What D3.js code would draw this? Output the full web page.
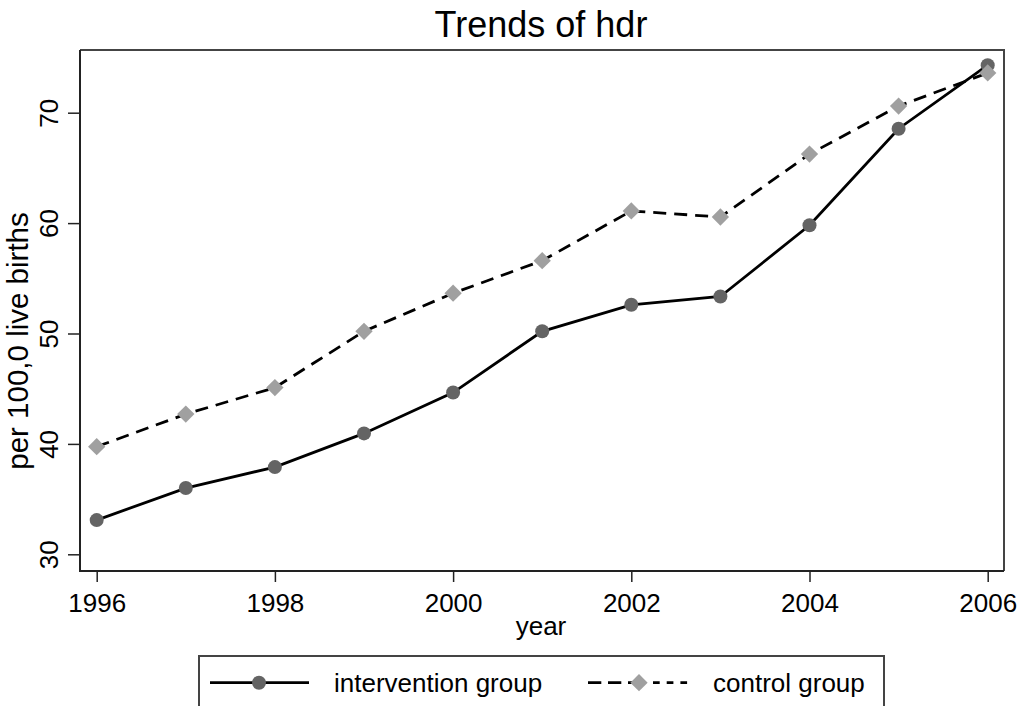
<!DOCTYPE html>
<html>
<head>
<meta charset="utf-8">
<script src="https://cdn.jsdelivr.net/npm/d3@7"></script>
<style>
  html, body { margin: 0; padding: 0; background: #fff; }
  svg { display: block; font-family: "Liberation Sans", Arial, sans-serif; }
</style>
</head>
<body>
<svg id="chart" width="1024" height="706"></svg>
<script>
// Yearly rates per 100,000 live births
const years = [1996, 1997, 1998, 1999, 2000, 2001, 2002, 2003, 2004, 2005, 2006];
const intervention = [33.1, 36.0, 37.9, 40.95, 44.65, 50.2, 52.6, 53.35, 59.8, 68.55, 74.3];
const control = [39.75, 42.7, 45.1, 50.2, 53.65, 56.6, 61.1, 60.55, 66.25, 70.6, 73.6];
const xTicks = [1996, 1998, 2000, 2002, 2004, 2006];
const yTicks = [30, 40, 50, 60, 70];
const seriesNames = ["intervention group", "control group"];

const svg = d3.select("#chart");
const frame = { left: 80, right: 1004, top: 50, bottom: 571 };

const x = d3.scaleLinear().domain([1996, 2006]).range([96.7, 987.7]);
const y = d3.scaleLinear().domain([30, 70]).range([554.3, 112.7]);

const FONT = 26;

// Title
svg.append("text")
  .attr("x", 541).attr("y", 36.5)
  .attr("text-anchor", "middle")
  .attr("font-size", 36)
  .attr("fill", "#000")
  .text("Trends of hdr");

// Plot region border (top and right)
svg.append("path")
  .attr("d", `M${frame.left},${frame.top}H${frame.right}V${frame.bottom}`)
  .attr("fill", "none").attr("stroke", "#444").attr("stroke-width", 2);

// Y axis
const yAxis = d3.axisLeft(y).tickValues(yTicks).tickSize(12).tickPadding(10);
const gy = svg.append("g").attr("transform", `translate(${frame.left},0)`).call(yAxis);
gy.select(".domain").remove();
gy.selectAll(".tick line").attr("stroke", "#222").attr("stroke-width", 1.5);
gy.selectAll(".tick text")
  .attr("font-size", FONT).attr("fill", "#000")
  .attr("font-family", "Liberation Sans, Arial, sans-serif")
  .attr("x", 0).attr("dy", 0)
  .attr("text-anchor", "middle")
  .attr("transform", "translate(-22,0) rotate(-90)");

// X axis
const xAxis = d3.axisBottom(x).tickValues(xTicks).tickSize(11).tickPadding(8).tickFormat(d3.format("d"));
const gx = svg.append("g").attr("transform", `translate(0,${frame.bottom})`).call(xAxis);
gx.select(".domain").remove();
gx.selectAll(".tick line").attr("stroke", "#222").attr("stroke-width", 1.5);
gx.selectAll(".tick text")
  .attr("font-size", FONT).attr("fill", "#000")
  .attr("font-family", "Liberation Sans, Arial, sans-serif")
  .attr("dy", 0).attr("y", 41);

// Axis lines (left and bottom)
svg.append("path")
  .attr("d", `M${frame.left},${frame.top}V${frame.bottom}H${frame.right}`)
  .attr("fill", "none").attr("stroke", "#222").attr("stroke-width", 2);

// Axis titles
svg.append("text")
  .attr("x", 541).attr("y", 635)
  .attr("text-anchor", "middle").attr("font-size", FONT).attr("fill", "#000")
  .text("year");
svg.append("text")
  .attr("transform", "translate(28,341) rotate(-90)")
  .attr("text-anchor", "middle").attr("font-size", 29.5).attr("fill", "#000")
  .text("per 100,0 live births");

// Series lines
const line = d3.line().x((d, i) => x(years[i])).y(d => y(d));
svg.append("path").datum(control)
  .attr("d", line).attr("fill", "none")
  .attr("stroke", "#000").attr("stroke-width", 2.8)
  .attr("stroke-dasharray", "13,8");
svg.append("path").datum(intervention)
  .attr("d", line).attr("fill", "none")
  .attr("stroke", "#000").attr("stroke-width", 2.8);

const diamond = d3.symbol().type(d3.symbolSquare).size(150);

// Markers
svg.append("g").selectAll("circle").data(intervention).join("circle")
  .attr("cx", (d, i) => x(years[i])).attr("cy", d => y(d))
  .attr("r", 7).attr("fill", "#646464");
svg.append("g").selectAll("path").data(control).join("path")
  .attr("d", diamond)
  .attr("transform", (d, i) => `translate(${x(years[i])},${y(d)}) rotate(45)`)
  .attr("fill", "#a0a0a0");

// Legend
const legend = svg.append("g");
legend.append("rect")
  .attr("x", 199).attr("y", 656).attr("width", 685).attr("height", 60)
  .attr("fill", "#fff").attr("stroke", "#444").attr("stroke-width", 2);
const ly = 682.7;
legend.append("line").attr("x1", 210).attr("x2", 309).attr("y1", ly).attr("y2", ly)
  .attr("stroke", "#000").attr("stroke-width", 2.8);
legend.append("circle").attr("cx", 259).attr("cy", ly).attr("r", 7).attr("fill", "#646464");
legend.append("text").attr("x", 334).attr("y", ly + 9.5)
  .attr("font-size", FONT).attr("fill", "#000").text(seriesNames[0]);

legend.append("line").attr("x1", 588).attr("x2", 639).attr("y1", ly).attr("y2", ly)
  .attr("stroke", "#000").attr("stroke-width", 2.8).attr("stroke-dasharray", "13.3,6.7");
legend.append("line").attr("x1", 653).attr("x2", 689).attr("y1", ly).attr("y2", ly)
  .attr("stroke", "#000").attr("stroke-width", 2.8).attr("stroke-dasharray", "6.7,7");
legend.append("path").attr("d", diamond)
  .attr("transform", `translate(639,${ly}) rotate(45)`).attr("fill", "#a0a0a0");
legend.append("text").attr("x", 713).attr("y", ly + 9.5)
  .attr("font-size", FONT).attr("fill", "#000").text(seriesNames[1]);
</script>
</body>
</html>
